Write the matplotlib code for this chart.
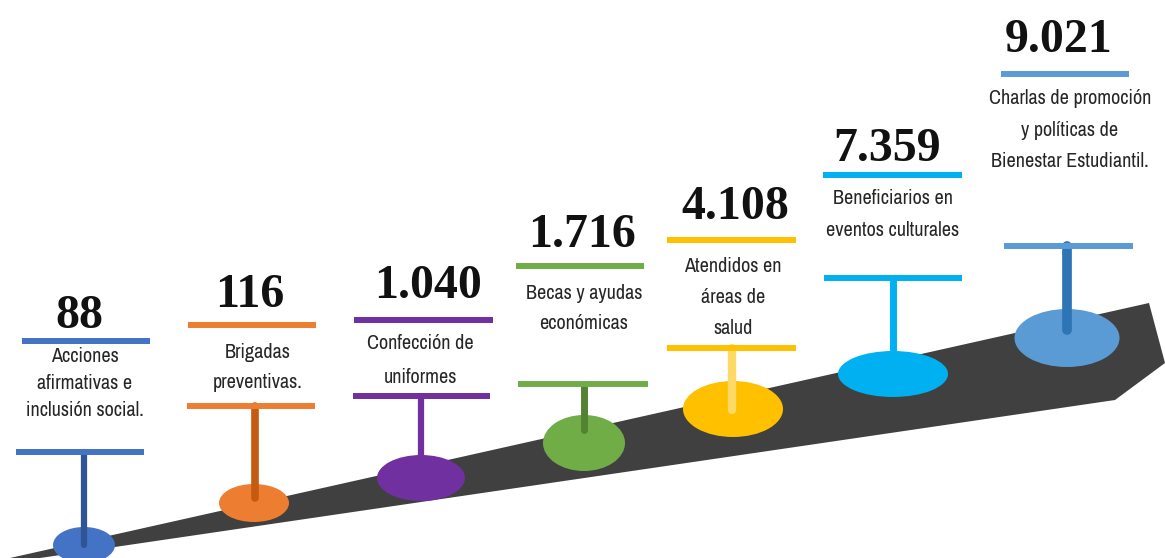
import matplotlib
matplotlib.use("Agg")
import matplotlib.pyplot as plt
from matplotlib.patches import Ellipse, Polygon
from matplotlib import font_manager
from matplotlib.font_manager import FontProperties

# ---- data ----
values = ["88", "116", "1.040", "1.716", "4.108", "7.359", "9.021"]
labels = [
    "Acciones\nafirmativas e\ninclusión social.",
    "Brigadas\npreventivas.",
    "Confección de\nuniformes",
    "Becas y ayudas\neconómicas",
    "Atendidos en\náreas de\nsalud",
    "Beneficiarios en\neventos culturales",
    "Charlas de promoción\ny políticas de\nBienestar Estudiantil.",
]
main_colors = ["#4472C4", "#ED7D31", "#7030A0", "#70AD47", "#FFC000", "#00B0F0", "#5B9BD5"]
stem_colors = ["#2F5597", "#C55A11", "#7030A0", "#548235", "#FFD966", "#00B0F0", "#2E75B6"]

# ---- layout (pixel coordinates of the infographic) ----
cx = [84, 255, 421, 584, 732, 893, 1067]
top_line_y = [341, 325, 320, 266, 240, 175, 74]
top_line_x = [(22, 150), (188, 316), (354, 493), (516, 644), (667, 796), (823, 962), (1001, 1129)]
low_line_y = [452, 406, 396, 384, 348, 278, 246]
low_line_x = [(16, 144), (187, 315), (353, 490), (518, 648), (667, 796), (824, 962), (1004, 1133)]
num_x = [79, 250, 428, 582, 735, 887, 1059]
num_base = [328, 307, 298, 247, 219, 161, 52]
label_x = [85, 258, 420, 584, 733, 893, 1070]
label_top = [347, 343, 334, 284, 257, 189, 89]
label_ls = [1.55, 1.72, 2.0, 1.72, 1.81, 1.84, 1.84]
ell = [(84, 545, 62, 36), (254, 503, 70, 38), (421, 478, 88, 46), (584, 443, 82, 56),
       (733, 409, 100, 56), (893, 374, 110, 46), (1067, 338, 105, 58)]
stem_end = [545, 498, 462, 430, 410, 355, 330]
stem_w = [4.5, 5.5, 4.5, 5, 6, 5, 7]

# pick the most condensed regular font installed
STRETCH = {"ultra-condensed": 100, "extra-condensed": 200, "condensed": 300,
           "semi-condensed": 400, "normal": 500}


def stretch_num(f):
    s = f.stretch
    if isinstance(s, (int, float)):
        return s
    return STRETCH.get(str(s), 500)


cond = [f for f in font_manager.fontManager.ttflist
        if f.style == "normal" and f.weight in (400, "normal", "regular")
        and (stretch_num(f) < 500 or "Condensed" in f.name or "Narrow" in f.name)]
if cond:
    cond.sort(key=lambda f: (stretch_num(f), f.name))
    label_fp = FontProperties(fname=cond[0].fname, size=14.5)
else:
    label_fp = FontProperties(family="DejaVu Sans", size=11)

W, H = 1165, 558
fig = plt.figure(figsize=(W / 100, H / 100), dpi=100)
ax = fig.add_axes([0, 0, 1, 1])
ax.set_xlim(0, W)
ax.set_ylim(H, 0)
ax.axis("off")

# road
road = Polygon([(10, 558), (1149, 303), (1165, 363), (1115, 400), (40, 558)],
               closed=True, facecolor="#404040", edgecolor="none", zorder=1)
ax.add_patch(road)

for i in range(len(values)):
    e = ell[i]
    ax.add_patch(Ellipse((e[0], e[1]), e[2], e[3], facecolor=main_colors[i], edgecolor="none", zorder=2))
    ax.plot([cx[i], cx[i]], [low_line_y[i], stem_end[i]], color=stem_colors[i], lw=stem_w[i],
            solid_capstyle="round", zorder=3)
    ax.plot(list(low_line_x[i]), [low_line_y[i]] * 2, color=main_colors[i], lw=4.3,
            solid_capstyle="butt", zorder=4)
    ax.plot(list(top_line_x[i]), [top_line_y[i]] * 2, color=main_colors[i], lw=4.3,
            solid_capstyle="butt", zorder=4)
    ax.text(num_x[i], num_base[i], values[i], ha="center", va="baseline",
            fontsize=34.5, fontweight="bold", family="Liberation Serif", color="#111111", zorder=5)
    ax.text(label_x[i], label_top[i], labels[i], ha="center", va="top",
            fontproperties=label_fp, color="#262626", linespacing=label_ls[i], zorder=5)

fig.savefig("out.png", dpi=100)
